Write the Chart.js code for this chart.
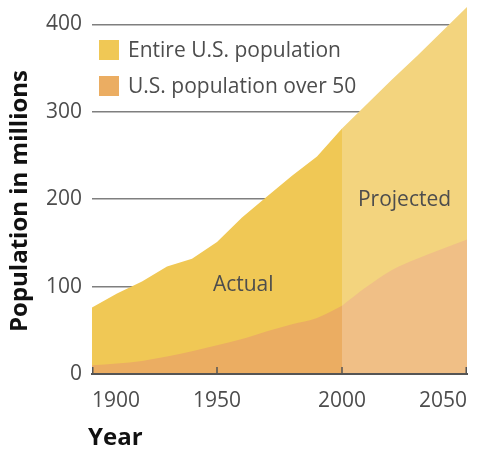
<!DOCTYPE html>
<html>
<head>
<meta charset="utf-8">
<script src="https://cdn.jsdelivr.net/npm/chart.js@4.4.1/dist/chart.umd.min.js"></script>
<style>
  html, body { margin: 0; padding: 0; background: #fff; }
  #wrap { width: 477px; height: 449px; }
</style>
</head>
<body>
<div id="wrap"><canvas id="popChart" width="477" height="449"></canvas></div>
<script>
// --- DATA ---
const actualYears = [1900, 1910, 1920, 1930, 1940, 1950, 1960, 1970, 1980, 1990, 2000];
const projectedYears = [2000, 2010, 2020, 2030, 2040, 2050];
const totalActual = [76, 92, 106, 123, 132, 151, 179, 203, 227, 249, 281];
const totalProjected = [281, 309, 337, 364, 392, 420];
const over50Actual = [10, 12, 15, 20, 26, 33, 40, 49, 57, 64, 78];
const over50Projected = [78, 100, 119, 132, 143, 154];
const yearTicks = [1900, 1950, 2000, 2050];
const popTicks = [0, 100, 200, 300, 400];
const seriesNames = ['Entire U.S. population', 'U.S. population over 50'];
const xTitle = 'Year';
const yTitle = 'Population in millions';

// --- STYLE ---
const textGray = '#4d4d4d';
const colors = {
    totalActual: '#F0C855',
    totalProjected: '#F3D47E',
    over50Actual: '#EBAD62',
    over50Projected: '#F0BF86'
};

const toPoints = (xs, ys) => xs.map((x, i) => ({ x: x, y: ys[i] }));

const areaStyle = {
    fill: 'origin',
    borderWidth: 0,
    pointRadius: 0,
    pointHoverRadius: 0
};

// Legend drawn inside the plot, top-left
const legendInside = {
    id: 'legendInside',
    afterDraw(chart) {
        const ctx = chart.ctx;
        const swatches = [colors.totalActual, colors.over50Actual];
        ctx.save();
        ctx.font = '21px "Open Sans"';
        ctx.textBaseline = 'middle';
        seriesNames.forEach((name, i) => {
            const y = 40 + i * 36;
            ctx.fillStyle = swatches[i];
            ctx.fillRect(99, y, 20, 20);
            ctx.fillStyle = textGray;
            ctx.fillText(name, 128, y + 11);
        });
        ctx.restore();
    }
};

// "Actual" / "Projected" labels, placed in data units
const regionLabels = {
    id: 'regionLabels',
    afterDatasetsDraw(chart) {
        const { ctx, scales: { x, y } } = chart;
        const labels = [
            { text: 'Actual', year: 1960.5, value: 102 },
            { text: 'Projected', year: 2025, value: 199 }
        ];
        ctx.save();
        ctx.font = '21px "Open Sans"';
        ctx.fillStyle = textGray;
        ctx.textAlign = 'center';
        ctx.textBaseline = 'middle';
        labels.forEach(l => ctx.fillText(l.text, x.getPixelForValue(l.year), y.getPixelForValue(l.value)));
        ctx.restore();
    }
};

// Axis titles (the y title sits a little below the plot's centre in the original)
const axisTitles = {
    id: 'axisTitles',
    afterDraw(chart) {
        const ctx = chart.ctx;
        ctx.save();
        ctx.font = 'bold 24px "Open Sans"';
        ctx.fillStyle = '#111';
        ctx.textBaseline = 'middle';
        ctx.textAlign = 'left';
        ctx.fillText(xTitle, 88, 438);
        ctx.translate(20, 201);
        ctx.rotate(-Math.PI / 2);
        ctx.textAlign = 'center';
        ctx.fillText(yTitle, 0, 0);
        ctx.restore();
    }
};

// Small tick marks pointing up from the x axis
const upTicks = {
    id: 'upTicks',
    afterDraw(chart) {
        const { ctx, chartArea, scales: { x } } = chart;
        ctx.save();
        ctx.strokeStyle = '#555';
        ctx.lineWidth = 1.5;
        yearTicks.forEach((yr, i) => {
            let px = Math.round(x.getPixelForValue(yr));
            if (i === 0) px += 0.75;
            if (i === yearTicks.length - 1) px -= 0.75;
            ctx.beginPath();
            ctx.moveTo(px, chartArea.bottom - 7);
            ctx.lineTo(px, chartArea.bottom);
            ctx.stroke();
        });
        ctx.restore();
    }
};

new Chart(document.getElementById('popChart'), {
    type: 'line',
    data: {
        datasets: [
            { ...areaStyle, label: seriesNames[1], data: toPoints(projectedYears, over50Projected), backgroundColor: colors.over50Projected, cubicInterpolationMode: 'monotone' },
            { ...areaStyle, label: seriesNames[1], data: toPoints(actualYears, over50Actual), backgroundColor: colors.over50Actual, cubicInterpolationMode: 'monotone' },
            { ...areaStyle, label: seriesNames[0], data: toPoints(projectedYears, totalProjected), backgroundColor: colors.totalProjected, tension: 0 },
            { ...areaStyle, label: seriesNames[0], data: toPoints(actualYears, totalActual), backgroundColor: colors.totalActual, tension: 0 }
        ]
    },
    options: {
        responsive: false,
        animation: false,
        layout: { padding: { top: 7, right: 10, left: 0, bottom: 0 } },
        plugins: { legend: { display: false }, tooltip: { enabled: false } },
        scales: {
            x: {
                type: 'linear',
                min: 1900,
                max: 2050,
                afterBuildTicks: s => { s.ticks = yearTicks.map(v => ({ value: v })); },
                afterFit: s => { s.height = 75; s.paddingLeft = 0; s.paddingRight = 0; },
                grid: { display: false, drawTicks: false },
                border: { display: true, color: '#555', width: 2, z: 1 },
                ticks: {
                    align: 'inner',
                    padding: 14,
                    color: textGray,
                    font: { family: 'Open Sans', size: 21 },
                    callback: v => String(v)
                }
            },
            y: {
                min: 0,
                max: 420,
                afterBuildTicks: s => { s.ticks = popTicks.map(v => ({ value: v })); },
                afterFit: s => { s.width = 92; s.paddingTop = 0; s.paddingBottom = 0; },
                grid: {
                    color: ctx => ctx.tick && ctx.tick.value === 0 ? 'rgba(0,0,0,0)' : '#7f7f7f',
                    lineWidth: 1.5,
                    drawTicks: false
                },
                border: { display: false },
                ticks: {
                    padding: 10,
                    color: textGray,
                    font: { family: 'Open Sans', size: 21 }
                }
            }
        }
    },
    plugins: [legendInside, regionLabels, axisTitles, upTicks]
});
</script>
</body>
</html>
